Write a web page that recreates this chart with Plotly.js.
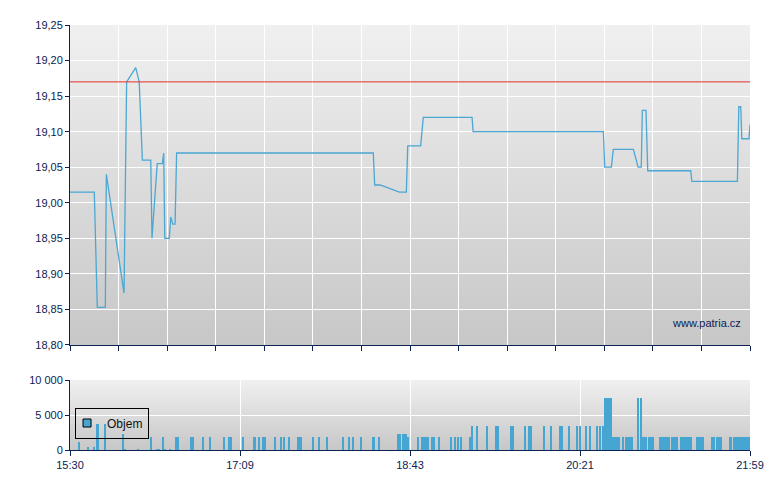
<!DOCTYPE html>
<html>
<head>
<meta charset="utf-8">
<script src="https://cdn.plot.ly/plotly-3.0.1.min.js"></script>
<style>
  body { margin: 0; background: #fff; }
  #myDiv { width: 780px; height: 490px; }
</style>
</head>
<body>
<div id="myDiv"></div>
<script>
// minutes since 15:30 (session runs to 21:59 = 389 min)
var priceMin = [0, 13.9, 15.6, 20.2, 20.8, 30.9, 32.4, 37.6, 39.6, 41.4,
    46.2, 46.9, 49.9, 52.8, 53.6, 54.2, 56.8, 57.6, 58.8, 60.1,
    61.0, 173.5, 174.3, 177.4, 188.4, 192.4, 193.2, 200.6, 202.1, 230.0,
    230.6, 305.1, 305.9, 309.7, 310.8, 322.3, 325.0, 326.8, 327.4, 329.5,
    330.5, 355.1, 355.7, 381.8, 382.6, 383.7, 384.3, 388.4, 389];
var price = [19.015, 19.015, 18.853, 18.853, 19.04, 18.873, 19.17, 19.19, 19.17, 19.06,
    19.06, 18.95, 19.055, 19.055, 19.07, 18.95, 18.95, 18.98, 18.97, 18.97,
    19.07, 19.07, 19.025, 19.025, 19.015, 19.015, 19.08, 19.08, 19.12, 19.12,
    19.10, 19.10, 19.05, 19.05, 19.075, 19.075, 19.05, 19.05, 19.13, 19.13,
    19.045, 19.045, 19.03, 19.03, 19.135, 19.135, 19.09, 19.09, 19.11];

// previous close (red line)
var prevClose = 19.17;

var volMin = [5.1, 10.3, 13.7, 15.3, 16.0, 19.8, 30.5, 31.7, 39.1, 46.3,
    49.8, 51.0, 53.2, 54.3, 57.2, 60.6, 61.8, 69.2, 70.4, 76.1,
    80.1, 88.1, 91.0, 92.1, 99.0, 105.0, 105.9, 108.1, 110.4, 111.6,
    117.3, 120.7, 122.4, 125.3, 130.3, 131.3, 132.3, 139.0, 142.4, 147.0,
    156.2, 159.6, 161.9, 166.5, 173.1, 174.1, 176.8, 187.4, 188.6, 190.8,
    191.9, 193.1, 199.1, 201.4, 202.6, 203.8, 204.9, 207.1, 208.2, 211.1,
    218.0, 220.3, 221.9, 223.6, 228.8, 230.0, 233.0, 238.6, 243.7, 244.8,
    252.3, 253.5, 260.3, 262.6, 263.7, 271.0, 275.0, 280.5, 281.4, 285.5,
    290.1, 291.8, 295.2, 297.5, 301.5, 303.3, 305.0, 306.1, 307.2, 308.4,
    309.5, 310.7, 311.8, 313.0, 314.1, 316.4, 318.1, 319.3, 320.5, 321.7,
    325.0, 326.6, 327.5, 329.2, 331.5, 333.2, 337.6, 338.9, 340.1, 341.4,
    342.7, 344.4, 345.8, 347.2, 349.5, 350.6, 351.8, 353.0, 354.1, 355.2,
    358.7, 359.8, 361.0, 362.1, 367.3, 368.6, 369.9, 371.1, 372.4, 377.6,
    378.1, 379.9, 381.1, 382.3, 383.5, 384.7, 385.9, 387.1, 388.3];
var vol = [1200, 450, 450, 3750, 3750, 3750, 2350, 150, 150, 1850,
    150, 150, 1850, 150, 150, 1850, 1850, 1850, 1850, 1850,
    1850, 1850, 1850, 1850, 1850, 1850, 1850, 1850, 1850, 1850,
    1850, 1850, 1850, 1850, 1850, 1850, 1850, 1850, 1850, 1850,
    1850, 1850, 1850, 1850, 1850, 1850, 1850, 2300, 2300, 2300,
    2300, 1850, 1850, 1850, 1850, 1850, 1850, 1850, 1850, 1850,
    1850, 1850, 1850, 1850, 1850, 3430, 3430, 3430, 3430, 3430,
    3430, 3430, 3430, 3430, 3430, 3430, 3430, 3430, 3430, 3430,
    3430, 3430, 3430, 3430, 3430, 3430, 3430, 7500, 7500, 7500,
    7500, 1850, 1850, 1850, 1850, 1850, 1850, 1850, 1850, 1850,
    7450, 7450, 1850, 1850, 1850, 1850, 1850, 1850, 1850, 1850,
    1850, 1850, 1850, 1850, 1850, 1850, 1850, 1850, 1850, 1850,
    1850, 1850, 1850, 1850, 1850, 1850, 1850, 1850, 1850, 1850,
    1850, 1850, 1850, 1850, 1850, 1850, 1850, 1850, 1850];

var timeLabels = ['15:30', '17:09', '18:43', '20:21', '21:59'];

var sessionLen = 389;
var navy = '#0b2252';
var blue = '#46a6d1';

// tick positions: upper chart split in 14, lower in 4
var topTicks = [];
for (var i = 0; i <= 14; i++) topTicks.push(sessionLen * i / 14);
var bottomTicks = timeLabels.map(function (t, i) { return sessionLen * i / (timeLabels.length - 1); });

// grey vertical gradient for the plot backgrounds
var grad = "<svg xmlns='http://www.w3.org/2000/svg' viewBox='0 0 10 10' preserveAspectRatio='none'>" +
    "<defs><linearGradient id='g' x1='0' y1='0' x2='0' y2='1'>" +
    "<stop offset='0' stop-color='#f0f0f0'/><stop offset='1' stop-color='#c7c7c7'/>" +
    "</linearGradient></defs><rect width='10' height='10' fill='url(#g)'/></svg>";
var gradSrc = 'data:image/svg+xml;charset=utf-8,' + encodeURIComponent(grad);

var priceTrace = {
    x: priceMin,
    y: price,
    type: 'scatter',
    mode: 'lines',
    line: { color: '#4ba7d3', width: 1.3 },
    showlegend: false,
    xaxis: 'x', yaxis: 'y'
};

var volTrace = {
    x: volMin,
    y: vol,
    type: 'bar',
    width: 1.2,
    marker: { color: blue, line: { width: 0 } },
    showlegend: false,
    xaxis: 'x2', yaxis: 'y2'
};

// legend entry only (square swatch with black border)
var volLegend = {
    x: [null], y: [null],
    type: 'scatter',
    mode: 'markers',
    name: 'Objem',
    marker: { symbol: 'square', size: 8, color: blue, line: { color: '#000', width: 1 } },
    xaxis: 'x2', yaxis: 'y2'
};

var tickFont = { family: 'Liberation Sans, Arial, sans-serif', size: 11, color: navy };

var layout = {
    width: 780,
    height: 490,
    margin: { l: 70, r: 30, t: 25, b: 40 },
    paper_bgcolor: '#ffffff',
    plot_bgcolor: 'rgba(0,0,0,0)',
    separators: ', ',
    font: tickFont,
    xaxis: {
        domain: [0, 1],
        anchor: 'y',
        range: [0, sessionLen],
        tickmode: 'array',
        tickvals: topTicks,
        showticklabels: false,
        ticks: 'outside', ticklen: 5, tickcolor: navy,
        showline: true, linecolor: navy, linewidth: 1,
        showgrid: true, gridcolor: '#ffffff', gridwidth: 1,
        zeroline: false
    },
    yaxis: {
        domain: [0.2471, 1],
        anchor: 'x',
        range: [18.80, 19.25],
        tick0: 18.80, dtick: 0.05,
        tickformat: '.2f',
        ticks: 'outside', ticklen: 4, tickcolor: navy,
        showline: true, linecolor: navy, linewidth: 1,
        showgrid: true, gridcolor: '#ffffff', gridwidth: 1,
        zeroline: false,
        tickfont: tickFont
    },
    xaxis2: {
        domain: [0, 1],
        anchor: 'y2',
        range: [0, sessionLen],
        tickmode: 'array',
        tickvals: bottomTicks,
        ticktext: timeLabels,
        ticks: 'outside', ticklen: 5, tickcolor: navy,
        showline: true, linecolor: navy, linewidth: 1,
        showgrid: true, gridcolor: '#ffffff', gridwidth: 1,
        zeroline: false,
        tickfont: tickFont
    },
    yaxis2: {
        domain: [0, 0.1647],
        anchor: 'x2',
        range: [0, 10000],
        tickmode: 'array',
        tickvals: [0, 5000, 10000],
        tickformat: ',d',
        ticks: 'outside', ticklen: 4, tickcolor: navy,
        showline: true, linecolor: navy, linewidth: 1,
        showgrid: true, gridcolor: '#ffffff', gridwidth: 1,
        zeroline: false,
        tickfont: tickFont
    },
    bargap: 0,
    shapes: [{
        type: 'line',
        xref: 'x domain', yref: 'y',
        x0: 0, x1: 1, y0: prevClose, y1: prevClose,
        line: { color: '#e3302a', width: 1 }
    }],
    images: [{
        source: gradSrc, xref: 'x domain', yref: 'y domain',
        x: 0, y: 1, sizex: 1, sizey: 1, xanchor: 'left', yanchor: 'top',
        sizing: 'stretch', layer: 'below'
    }, {
        source: gradSrc, xref: 'x2 domain', yref: 'y2 domain',
        x: 0, y: 1, sizex: 1, sizey: 1, xanchor: 'left', yanchor: 'top',
        sizing: 'stretch', layer: 'below'
    }],
    annotations: [{
        text: 'www.patria.cz',
        xref: 'x domain', yref: 'y domain',
        x: 0.99, y: 0.069, xanchor: 'right', yanchor: 'middle',
        showarrow: false,
        font: { family: 'Liberation Sans, Arial, sans-serif', size: 11, color: navy }
    }],
    showlegend: true,
    legend: {
        x: 0.0074, y: 0.1, xanchor: 'left', yanchor: 'top',
        bgcolor: 'rgba(0,0,0,0)',
        bordercolor: '#000000', borderwidth: 1,
        font: { family: 'Liberation Sans, Arial, sans-serif', size: 12, color: '#111111' },
        itemwidth: 30,
        indentation: -9,
        tracegroupgap: 0
    }
};

Plotly.newPlot('myDiv', [priceTrace, volTrace, volLegend], layout, { staticPlot: true });
</script>
</body>
</html>
